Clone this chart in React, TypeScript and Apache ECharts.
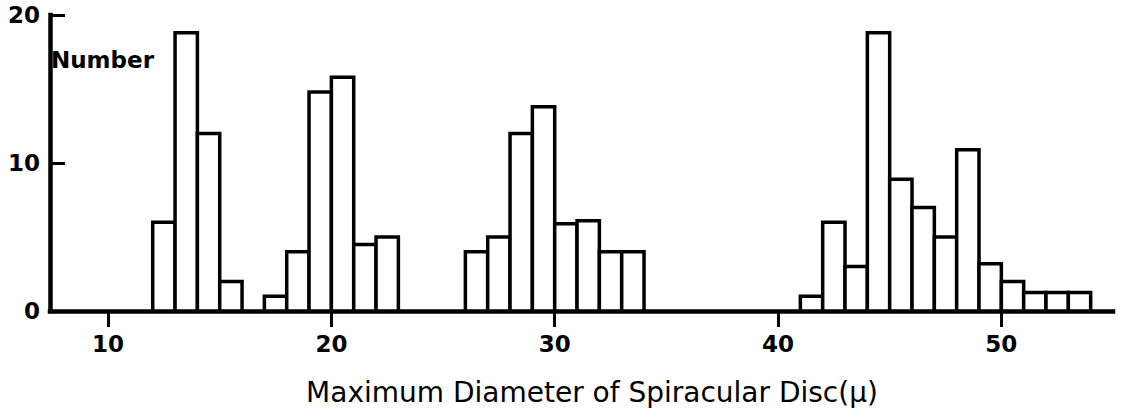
import React, { useEffect, useRef } from "react";
import * as echarts from "echarts";

// Bin start values (μ); each bin is 1 μ wide
const binStarts: number[] = [
  12, 13, 14, 15,
  17, 18, 19, 20, 21, 22,
  26, 27, 28, 29, 30, 31, 32, 33,
  41, 42, 43, 44, 45, 46, 47, 48, 49, 50, 51, 52, 53,
];
const binWidth = 1;
// Number of specimens in each bin
const counts: number[] = [
  6, 18.8, 12, 2,
  1, 4, 14.8, 15.8, 4.5, 5,
  4, 5, 12, 13.8, 5.9, 6.1, 4, 4,
  1, 6, 3, 18.8, 8.9, 7, 5, 10.9, 3.2, 2, 1.25, 1.25, 1.25,
];
const xTickValues: number[] = [10, 20, 30, 40, 50];
const xMin = 7.4;
const xMax = 55;
const yMax = 20;
const yInterval = 10;
const xTitle = "Maximum Diameter of Spiracular Disc(μ)";
const yTitle = "Number";

export default function App() {
  const ref = useRef<HTMLDivElement>(null);
  useEffect(() => {
    if (!ref.current) return;
    const chart = echarts.init(ref.current, null, { renderer: "svg" });
    const data = binStarts.map((s, i) => [s, s + binWidth, counts[i]]);
    const font = "DejaVu Sans";
    chart.setOption({
      animation: false,
      backgroundColor: "#ffffff",
      grid: { left: 50, right: 11, top: 15, bottom: 106, containLabel: false },
      xAxis: {
        type: "value",
        min: xMin,
        max: xMax,
        splitLine: { show: false },
        axisLine: { show: true, onZero: false, lineStyle: { color: "#000", width: 4.5, cap: "square" } },
        axisTick: { show: true, customValues: xTickValues, length: 16, lineStyle: { color: "#000", width: 3 } },
        axisLabel: {
          customValues: xTickValues,
          color: "#000",
          fontFamily: font,
          fontWeight: "bold",
          fontSize: 23,
          margin: 21,
        },
      },
      yAxis: {
        type: "value",
        min: 0,
        max: yMax,
        interval: yInterval,
        splitLine: { show: false },
        axisLine: { show: true, lineStyle: { color: "#000", width: 4.5, cap: "square" } },
        axisTick: { show: true, inside: true, length: 15, lineStyle: { color: "#000", width: 3 } },
        axisLabel: {
          color: "#000",
          fontFamily: font,
          fontWeight: "bold",
          fontSize: 23,
          margin: 10,
        },
      },
      graphic: [
        {
          type: "text",
          left: 51,
          top: 48,
          style: {
            text: yTitle,
            fill: "#000",
            font: `bold 23px "${font}"`,
          },
        },
        {
          type: "text",
          x: 592,
          y: 392,
          style: {
            text: xTitle,
            fill: "#000",
            font: `28px "${font}"`,
            textAlign: "center",
            textVerticalAlign: "middle",
          },
        },
      ],
      series: [
        {
          type: "custom",
          clip: false,
          encode: { x: [0, 1], y: 2 },
          data,
          renderItem: (params: any, api: any) => {
            const x0 = api.value(0);
            const x1 = api.value(1);
            const v = api.value(2);
            const p0 = api.coord([x0, v]);
            const p1 = api.coord([x1, 0]);
            return {
              type: "rect",
              shape: { x: p0[0], y: p0[1], width: p1[0] - p0[0], height: p1[1] - p0[1] },
              style: { fill: "#ffffff", stroke: "#000000", lineWidth: 3.5 },
            };
          },
        },
      ],
    });
    return () => chart.dispose();
  }, []);
  return (
    <div
      ref={ref}
      style={{ position: "absolute", left: 0, top: 0, width: 1124, height: 417, background: "#fff" }}
    />
  );
}
